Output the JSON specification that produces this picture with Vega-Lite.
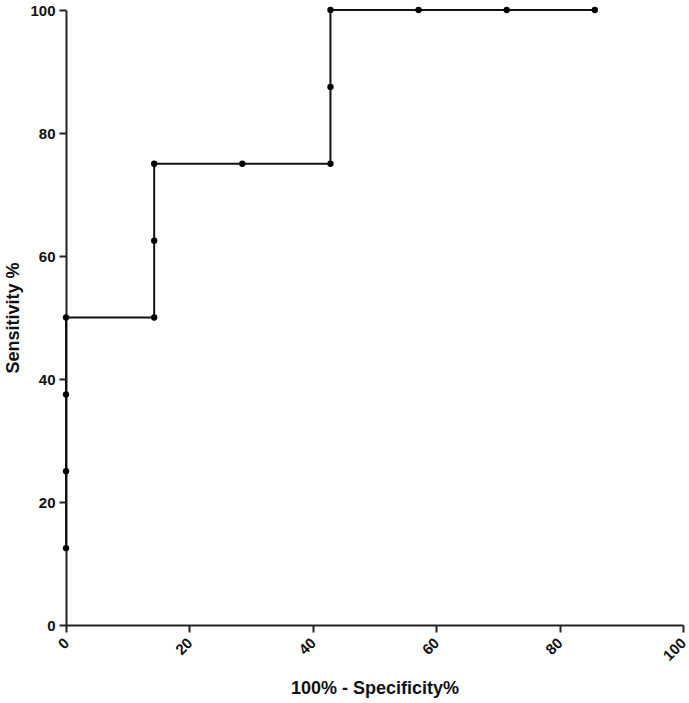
{
  "$schema": "https://vega.github.io/schema/vega-lite/v6.json",
  "autosize": "none",
  "width": 617,
  "height": 615,
  "padding": {"left": 66, "top": 10, "right": 6, "bottom": 78},
  "background": "white",
  "config": {
    "view": {"stroke": null},
    "axis": {
      "grid": false,
      "domainColor": "#222",
      "domainWidth": 2,
      "tickColor": "#222",
      "tickWidth": 2,
      "tickSize": 7,
      "labelFont": "Liberation Sans",
      "labelFontWeight": "bold",
      "labelFontSize": 15,
      "labelColor": "#111",
      "titleFont": "Liberation Sans",
      "titleFontWeight": "bold",
      "titleFontSize": 18,
      "titleColor": "#111"
    }
  },
  "data": {
    "values": [
      {"order": 1, "fpr": 0, "sens": 12.5},
      {"order": 2, "fpr": 0, "sens": 25},
      {"order": 3, "fpr": 0, "sens": 37.5},
      {"order": 4, "fpr": 0, "sens": 50},
      {"order": 5, "fpr": 14.29, "sens": 50},
      {"order": 6, "fpr": 14.29, "sens": 62.5},
      {"order": 7, "fpr": 14.29, "sens": 75},
      {"order": 8, "fpr": 28.57, "sens": 75},
      {"order": 9, "fpr": 42.86, "sens": 75},
      {"order": 10, "fpr": 42.86, "sens": 87.5},
      {"order": 11, "fpr": 42.86, "sens": 100},
      {"order": 12, "fpr": 57.14, "sens": 100},
      {"order": 13, "fpr": 71.43, "sens": 100},
      {"order": 14, "fpr": 85.71, "sens": 100}
    ]
  },
  "encoding": {
    "x": {
      "field": "fpr", "type": "quantitative",
      "scale": {"domain": [0, 100], "nice": false, "zero": true},
      "axis": {"values": [0, 20, 40, 60, 80, 100], "labelAngle": -45, "labelAlign": "right", "labelBaseline": "middle", "labelPadding": 8, "title": "100% - Specificity%", "titlePadding": 16}
    },
    "y": {
      "field": "sens", "type": "quantitative",
      "scale": {"domain": [0, 100], "nice": false},
      "axis": {"values": [0, 20, 40, 60, 80, 100], "labelPadding": 4, "title": "Sensitivity %", "titlePadding": 7}
    }
  },
  "layer": [
    {"mark": {"type": "line", "color": "#111", "strokeWidth": 2}, "encoding": {"order": {"field": "order"}}},
    {"mark": {"type": "point", "filled": true, "color": "#000", "size": 40, "opacity": 1}}
  ]
}
